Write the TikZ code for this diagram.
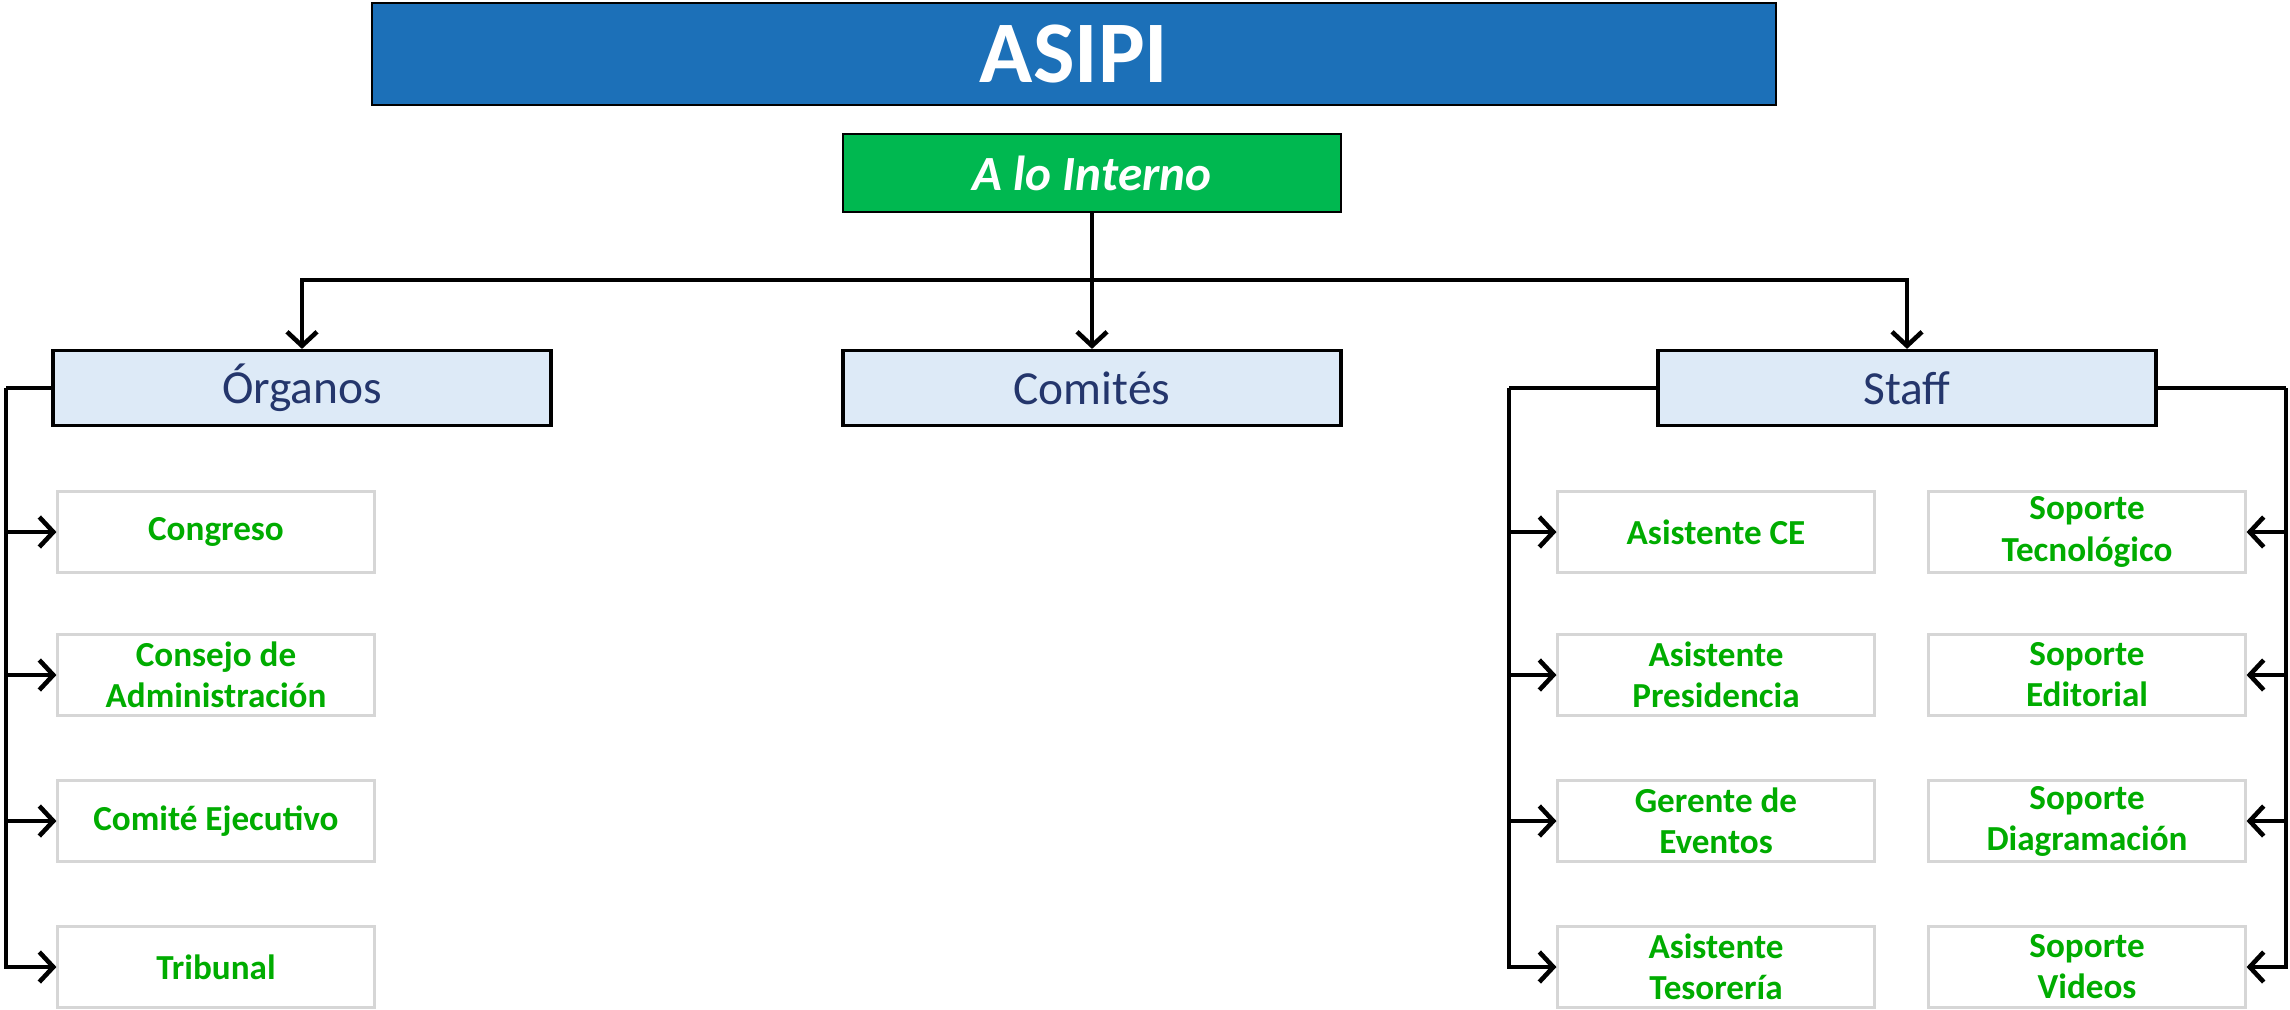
\documentclass[tikz,border=0pt]{standalone}
\usepackage{fontspec}
\setmainfont{Carlito}
\usetikzlibrary{arrows.meta}

\definecolor{asipiblue}{RGB}{28,112,184}
\definecolor{internogreen}{RGB}{0,184,80}
\definecolor{headfill}{RGB}{221,234,247}
\definecolor{headtext}{RGB}{36,54,108}
\definecolor{itemgreen}{RGB}{0,172,0}
\definecolor{itemline}{RGB}{214,214,214}

\begin{document}
\begin{tikzpicture}[
    titlebox/.style={draw=black, line width=0.7pt, fill=asipiblue, text=white,
      font=\bfseries\fontsize{25}{30}\selectfont, minimum width=14.04cm, minimum height=1.02cm, inner sep=0pt},
    areabox/.style={draw=black, line width=0.7pt, fill=internogreen, text=white,
      font=\bfseries\itshape\fontsize{14}{17}\selectfont, minimum width=4.98cm, minimum height=0.78cm, inner sep=0pt},
    headbox/.style={draw=black, line width=0.9pt, fill=headfill, text=headtext,
      font=\fontsize{13.5}{16}\selectfont, minimum width=4.98cm, minimum height=0.75cm, inner sep=0pt},
    itembox/.style={draw=itemline, line width=0.6pt, fill=white, text=itemgreen, align=center,
      font=\bfseries\fontsize{10}{11.7}\selectfont, minimum width=3.17cm, minimum height=0.81cm, inner sep=0pt},
    link/.style={line width=1.3pt},
    arr/.style={link, -{Straight Barb[length=1.4mm, width=3mm, line width=1.3pt]}}
  ]
        \useasboundingbox (0,0) rectangle (22.9,10.09);

        % Nodes
        \node[titlebox] (asipi) at (10.74,9.55) {ASIPI};
        \node[areabox] (interno) at (10.92,8.36) {A lo Interno};

        \node[headbox] (organos) at (3.02,6.21) {Órganos};
        \node[headbox] (comites) at (10.92,6.21) {Comités};
        \node[headbox] (staff) at (19.07,6.21) {Staff};

        \node[itembox] (congreso) at (2.16,4.77) {Congreso};
        \node[itembox] (consejo) at (2.16,3.34) {Consejo de\\Administración};
        \node[itembox] (ejecutivo) at (2.16,1.88) {Comité Ejecutivo};
        \node[itembox] (tribunal) at (2.16,0.42) {Tribunal};

        \node[itembox] (asistce) at (17.16,4.77) {Asistente CE};
        \node[itembox] (presidencia) at (17.16,3.34) {Asistente\\Presidencia};
        \node[itembox] (eventos) at (17.16,1.88) {Gerente de\\Eventos};
        \node[itembox] (tesoreria) at (17.16,0.42) {Asistente\\Tesorería};

        \node[itembox] (tecnologico) at (20.87,4.77) {Soporte\\Tecnológico};
        \node[itembox] (editorial) at (20.87,3.34) {Soporte\\Editorial};
        \node[itembox] (diagramacion) at (20.87,1.88) {Soporte\\Diagramación};
        \node[itembox] (videos) at (20.87,0.42) {Soporte\\Videos};

        \coordinate (split) at (10.92,7.29);
        \coordinate (orgbus) at (0.06,6.21);
        \coordinate (staffl) at (15.09,6.21);
        \coordinate (staffr) at (22.86,6.21);

        % Edges
        \draw[link] (interno) -- (split);
        \draw[arr] (split) -| (organos);
        \draw[arr] (split) -| (staff);
        \draw[arr] (split) -- (comites);

        \draw[link] (organos) -- (orgbus);
        \foreach \n in {congreso, consejo, ejecutivo, tribunal}
            \draw[arr] (orgbus) |- (\n);

        \draw[link] (staff) -- (staffl);
        \draw[link] (staff) -- (staffr);
        \foreach \n in {asistce, presidencia, eventos, tesoreria}
            \draw[arr] (staffl) |- (\n);
        \foreach \n in {tecnologico, editorial, diagramacion, videos}
            \draw[arr] (staffr) |- (\n);
    \end{tikzpicture}
\end{document}
